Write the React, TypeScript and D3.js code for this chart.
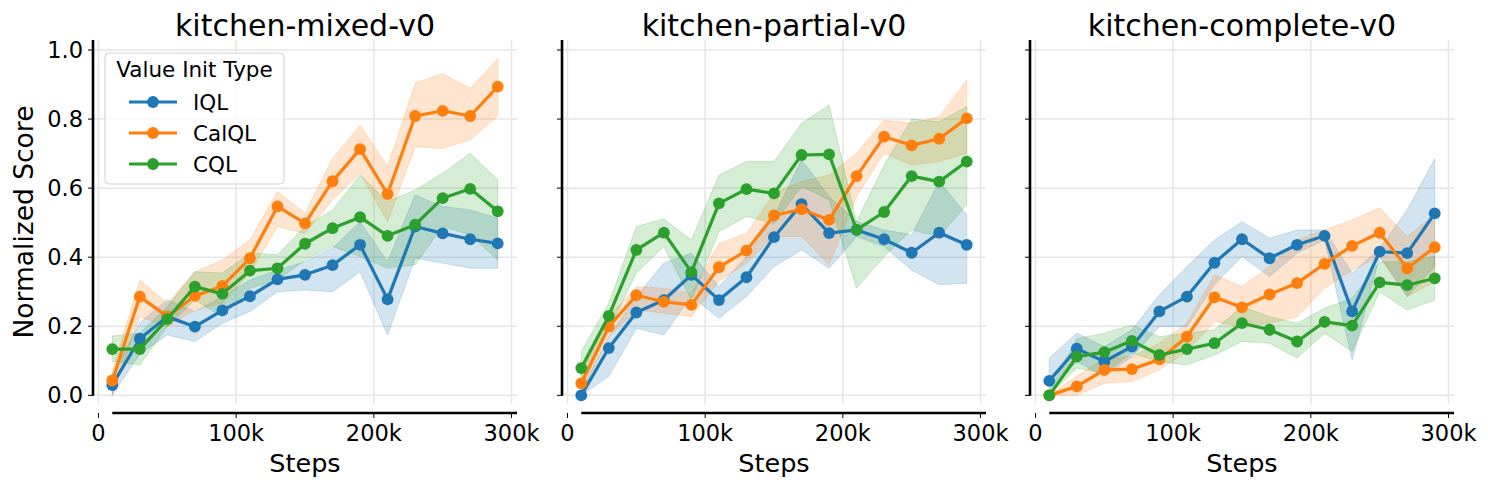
import * as React from 'react';
import { useEffect, useRef } from 'react';
import * as d3 from 'd3';

// training steps shared by all panels
const steps = [10000, 30000, 50000, 70000, 90000, 110000, 130000, 150000, 170000, 190000, 210000, 230000, 250000, 270000, 290000];

const seriesNames = ['IQL', 'CalQL', 'CQL'];
const seriesColors = ['#1f77b4', '#ff7f0e', '#2ca02c'];
const panelTitles = ['kitchen-mixed-v0', 'kitchen-partial-v0', 'kitchen-complete-v0'];
const xTicks = [0, 100000, 200000, 300000];
const yTicks = [0, 0.2, 0.4, 0.6, 0.8, 1.0];

// kitchen-mixed-v0
const mixedIql = [0.03, 0.164, 0.228, 0.199, 0.246, 0.287, 0.336, 0.349, 0.377, 0.436, 0.278, 0.489, 0.469, 0.452, 0.44];
const mixedIqlLo = [0.0, 0.12, 0.175, 0.156, 0.209, 0.243, 0.3, 0.305, 0.3, 0.358, 0.175, 0.397, 0.383, 0.368, 0.368];
const mixedIqlHi = [0.06, 0.21, 0.277, 0.243, 0.286, 0.334, 0.363, 0.387, 0.426, 0.503, 0.387, 0.58, 0.547, 0.537, 0.513];
const mixedCal = [0.043, 0.286, 0.228, 0.288, 0.317, 0.397, 0.547, 0.498, 0.62, 0.713, 0.583, 0.809, 0.824, 0.809, 0.894];
const mixedCalLo = [0.0, 0.228, 0.199, 0.247, 0.267, 0.354, 0.489, 0.469, 0.566, 0.643, 0.503, 0.72, 0.715, 0.74, 0.809];
const mixedCalHi = [0.07, 0.334, 0.267, 0.358, 0.392, 0.45, 0.59, 0.527, 0.686, 0.783, 0.663, 0.904, 0.932, 0.889, 0.974];
const mixedCql = [0.134, 0.134, 0.221, 0.315, 0.294, 0.361, 0.368, 0.439, 0.484, 0.516, 0.462, 0.494, 0.571, 0.598, 0.533];
const mixedCqlLo = [0.098, 0.088, 0.199, 0.276, 0.228, 0.31, 0.334, 0.392, 0.431, 0.402, 0.368, 0.378, 0.489, 0.465, 0.392];
const mixedCqlHi = [0.172, 0.18, 0.257, 0.358, 0.354, 0.412, 0.407, 0.489, 0.537, 0.638, 0.561, 0.595, 0.643, 0.701, 0.624];

// kitchen-partial-v0
const partialIql = [0.0, 0.137, 0.24, 0.276, 0.349, 0.276, 0.342, 0.458, 0.554, 0.47, 0.479, 0.452, 0.413, 0.471, 0.436];
const partialIqlLo = [0.0, 0.055, 0.194, 0.175, 0.286, 0.223, 0.286, 0.373, 0.421, 0.368, 0.46, 0.431, 0.363, 0.32, 0.325];
const partialIqlHi = [0.016, 0.17, 0.286, 0.383, 0.412, 0.315, 0.402, 0.518, 0.682, 0.576, 0.503, 0.479, 0.465, 0.619, 0.523];
const partialCal = [0.035, 0.199, 0.29, 0.271, 0.262, 0.371, 0.419, 0.521, 0.539, 0.508, 0.635, 0.749, 0.724, 0.743, 0.802];
const partialCalLo = [0.006, 0.17, 0.247, 0.238, 0.228, 0.33, 0.383, 0.46, 0.46, 0.378, 0.576, 0.701, 0.667, 0.677, 0.701];
const partialCalHi = [0.064, 0.228, 0.315, 0.31, 0.296, 0.44, 0.469, 0.585, 0.619, 0.638, 0.701, 0.797, 0.788, 0.807, 0.913];
const partialCql = [0.079, 0.23, 0.421, 0.471, 0.357, 0.556, 0.597, 0.585, 0.696, 0.698, 0.479, 0.531, 0.635, 0.619, 0.677];
const partialCqlLo = [0.021, 0.19, 0.354, 0.431, 0.276, 0.474, 0.518, 0.498, 0.605, 0.566, 0.31, 0.402, 0.479, 0.46, 0.552];
const partialCqlHi = [0.127, 0.267, 0.489, 0.511, 0.45, 0.638, 0.677, 0.677, 0.788, 0.841, 0.503, 0.667, 0.8, 0.792, 0.836];

// kitchen-complete-v0
const completeIql = [0.042, 0.135, 0.098, 0.141, 0.243, 0.286, 0.384, 0.452, 0.397, 0.436, 0.462, 0.243, 0.416, 0.412, 0.527];
const completeIqlLo = [0.006, 0.098, 0.055, 0.112, 0.199, 0.199, 0.32, 0.402, 0.344, 0.412, 0.45, 0.103, 0.402, 0.286, 0.373];
const completeIqlHi = [0.108, 0.18, 0.141, 0.19, 0.291, 0.373, 0.45, 0.503, 0.455, 0.479, 0.479, 0.354, 0.426, 0.537, 0.685];
const completeCal = [0.0, 0.026, 0.074, 0.076, 0.104, 0.17, 0.284, 0.255, 0.292, 0.325, 0.381, 0.433, 0.471, 0.368, 0.429];
const completeCalLo = [0.0, 0.0, 0.035, 0.04, 0.074, 0.127, 0.213, 0.199, 0.209, 0.228, 0.31, 0.363, 0.402, 0.286, 0.33];
const completeCalHi = [0.002, 0.055, 0.108, 0.112, 0.151, 0.209, 0.349, 0.315, 0.373, 0.45, 0.479, 0.508, 0.543, 0.46, 0.523];
const completeCql = [0.0, 0.112, 0.125, 0.158, 0.117, 0.134, 0.151, 0.209, 0.19, 0.156, 0.213, 0.202, 0.327, 0.319, 0.339];
const completeCqlLo = [0.0, 0.079, 0.064, 0.122, 0.098, 0.088, 0.117, 0.156, 0.151, 0.108, 0.18, 0.127, 0.3, 0.247, 0.276];
const completeCqlHi = [0.01, 0.165, 0.18, 0.204, 0.17, 0.18, 0.19, 0.257, 0.228, 0.209, 0.252, 0.281, 0.387, 0.387, 0.402];

const panels = [
  { mean: [mixedIql, mixedCal, mixedCql], lo: [mixedIqlLo, mixedCalLo, mixedCqlLo], hi: [mixedIqlHi, mixedCalHi, mixedCqlHi] },
  { mean: [partialIql, partialCal, partialCql], lo: [partialIqlLo, partialCalLo, partialCqlLo], hi: [partialIqlHi, partialCalHi, partialCqlHi] },
  { mean: [completeIql, completeCal, completeCql], lo: [completeIqlLo, completeCalLo, completeCqlLo], hi: [completeIqlHi, completeCalHi, completeCqlHi] },
];

const FONT = '"DejaVu Sans", sans-serif';

const fmtK = (v: number) => (v === 0 ? '0' : v / 1000 + 'k');

export default function App() {
  const ref = useRef<SVGSVGElement | null>(null);

  useEffect(() => {
    const svg = d3.select(ref.current);
    svg.selectAll('*').remove();

    const panelLefts = [93, 562, 1030];
    const panelW = 424;
    const top = 40, bottom = 404;
    const xAxisY = 413;

    const y = d3.scaleLinear().domain([-0.025, 1.029]).range([bottom, top]);

    panelLefts.forEach((left, p) => {
      const x = d3.scaleLinear().domain([-4000, 304000]).range([left, left + panelW]);
      const g = svg.append('g');

      // grid
      g.selectAll('.hgrid').data(yTicks).enter().append('line')
        .attr('x1', left).attr('x2', left + panelW)
        .attr('y1', d => y(d)).attr('y2', d => y(d))
        .attr('stroke', '#e6e6e6').attr('stroke-width', 1.5);
      g.selectAll('.vgrid').data(xTicks).enter().append('line')
        .attr('x1', d => x(d)).attr('x2', d => x(d))
        .attr('y1', top).attr('y2', bottom)
        .attr('stroke', '#e6e6e6').attr('stroke-width', 1.5);

      const data = panels[p];

      // bands under all lines
      data.mean.forEach((_, s) => {
        const area = d3.area<number>()
          .x((d, i) => x(steps[i]))
          .y0((d, i) => y(data.lo[s][i]))
          .y1((d, i) => y(data.hi[s][i]));
        g.append('path')
          .attr('d', area(data.mean[s]) as string)
          .attr('fill', seriesColors[s])
          .attr('fill-opacity', 0.2)
          .attr('stroke', seriesColors[s])
          .attr('stroke-opacity', 0.2)
          .attr('stroke-width', 1);
      });

      data.mean.forEach((vals, s) => {
        const line = d3.line<number>().x((d, i) => x(steps[i])).y(d => y(d));
        g.append('path')
          .attr('d', line(vals) as string)
          .attr('fill', 'none')
          .attr('stroke', seriesColors[s])
          .attr('stroke-width', 3.2)
          .attr('stroke-linejoin', 'round');
        g.selectAll('.pt' + s).data(vals).enter().append('circle')
          .attr('cx', (d, i) => x(steps[i]))
          .attr('cy', d => y(d))
          .attr('r', 5.9)
          .attr('fill', seriesColors[s]);
      });

      // y spine + ticks
      g.append('line')
        .attr('x1', left).attr('x2', left)
        .attr('y1', y(0) + 0.5).attr('y2', top)
        .attr('stroke', '#000').attr('stroke-width', 2.6);
      g.selectAll('.ytick').data(yTicks).enter().append('line')
        .attr('x1', left - 5).attr('x2', left)
        .attr('y1', d => y(d)).attr('y2', d => y(d))
        .attr('stroke', '#000').attr('stroke-width', 1);
      if (p === 0) {
        g.selectAll('.ylab').data(yTicks).enter().append('text')
          .attr('x', left - 10).attr('y', d => y(d) + 8)
          .attr('text-anchor', 'end')
          .attr('font-family', FONT).attr('font-size', 22.5)
          .text(d => d.toFixed(1));
        svg.append('text')
          .attr('transform', `translate(33,${(top + bottom) / 2}) rotate(-90)`)
          .attr('text-anchor', 'middle')
          .attr('font-family', FONT).attr('font-size', 26.5)
          .text('Normalized Score');
      }

      // x spine + ticks
      g.append('line')
        .attr('x1', x(10000)).attr('x2', x(304000))
        .attr('y1', xAxisY).attr('y2', xAxisY)
        .attr('stroke', '#000').attr('stroke-width', 2.6);
      g.selectAll('.xtick').data(xTicks).enter().append('line')
        .attr('x1', d => x(d)).attr('x2', d => x(d))
        .attr('y1', xAxisY).attr('y2', xAxisY + 5)
        .attr('stroke', '#000').attr('stroke-width', 1);
      g.selectAll('.xlab').data(xTicks).enter().append('text')
        .attr('x', d => x(d)).attr('y', 441)
        .attr('text-anchor', 'middle')
        .attr('font-family', FONT).attr('font-size', 22.5)
        .text(d => fmtK(d));
      g.append('text')
        .attr('x', left + panelW / 2).attr('y', 472)
        .attr('text-anchor', 'middle')
        .attr('font-family', FONT).attr('font-size', 25.5)
        .text('Steps');

      g.append('text')
        .attr('x', left + panelW / 2).attr('y', 36)
        .attr('text-anchor', 'middle')
        .attr('font-family', FONT).attr('font-size', 30)
        .text(panelTitles[p]);

      if (p === 0) {
        const lg = svg.append('g');
        lg.append('rect')
          .attr('x', 105).attr('y', 53).attr('width', 179).attr('height', 131)
          .attr('rx', 4)
          .attr('fill', '#fff').attr('fill-opacity', 0.8)
          .attr('stroke', '#d0d0d0').attr('stroke-width', 1);
        lg.append('text')
          .attr('x', 194.5).attr('y', 77)
          .attr('text-anchor', 'middle')
          .attr('font-family', FONT).attr('font-size', 21.5)
          .text('Value Init Type');
        seriesNames.forEach((name, s) => {
          const cy = 102 + s * 31;
          lg.append('line')
            .attr('x1', 129).attr('x2', 177).attr('y1', cy).attr('y2', cy)
            .attr('stroke', seriesColors[s]).attr('stroke-width', 3.2);
          lg.append('circle').attr('cx', 153).attr('cy', cy).attr('r', 5.9)
            .attr('fill', seriesColors[s]);
          lg.append('text')
            .attr('x', 193).attr('y', cy + 8)
            .attr('font-family', FONT).attr('font-size', 21.5)
            .text(name);
        });
      }
    });
  }, []);

  return (
    <svg ref={ref} width={1488} height={490}
      style={{ position: 'absolute', left: 0, top: 0, background: '#fff' }} />
  );
}
